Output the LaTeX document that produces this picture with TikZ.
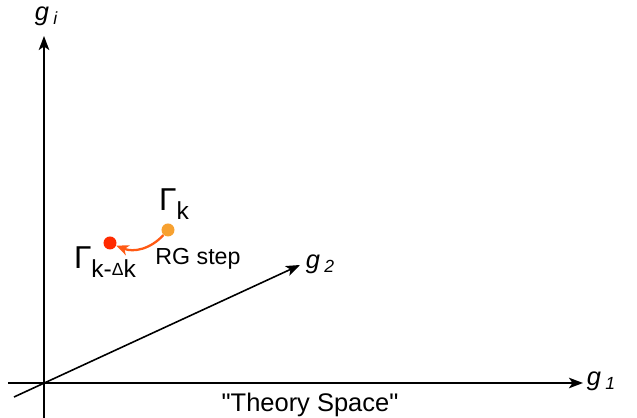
\documentclass[tikz,border=0pt]{standalone}
\usepackage{fontspec}
\setmainfont{Liberation Sans}
\usetikzlibrary{arrows.meta}
\definecolor{stepfrom}{HTML}{F7A130}
\definecolor{stepto}{HTML}{FF2A00}
\definecolor{steparrow}{HTML}{FF5A14}
\tikzset{
  every picture/.style={line join=round, >=Stealth},
  axis/.style={line width=0.9pt, -{Stealth[length=8pt,width=6pt,inset=2pt]}},
  coupling/.style={font=\fontsize{14.5}{17}\selectfont\itshape},
  dot/.style={circle, inner sep=0pt, minimum size=7.4pt},
  lbl/.style={font=\fontsize{14.5}{17}\selectfont},
}

\begin{document}
\begin{tikzpicture}[x=0.02cm,y=-0.02cm]
\useasboundingbox (0,0) rectangle (637,418);
% axes
\coordinate (o) at (44,383);
\coordinate (xs) at (8,383);
\coordinate (xe) at (583,383);
\coordinate (ys) at (44,418);
\coordinate (ye) at (44,36);
\coordinate (ds) at (14,397);
\coordinate (de) at (300,265);
\draw[axis] (xs) -- (xe);
\draw[axis] (ys) -- (ye);
\draw[axis] (ds) -- (de);
\node[coupling] (g1) at (601,381) {g\,\raisebox{-0.35ex}{\fontsize{10}{12}\selectfont 1}};
\node[coupling] (gi) at (46,16) {g\,\raisebox{-0.35ex}{\fontsize{10}{12}\selectfont i}};
\node[coupling] (g2) at (320,264) {g\,\raisebox{-0.35ex}{\fontsize{10}{12}\selectfont 2}};
\node[lbl] (ts) at (310,405) {\textquotedbl Theory Space\textquotedbl};
% RG step
\node[dot, fill=stepfrom] (gk) at (168,230) {};
\node[dot, fill=stepto] (gkd) at (110,243) {};
\draw[steparrow, line width=1.3pt, -{Stealth[length=7pt,width=6pt,inset=2pt]}] (gk) to[bend left=35] (gkd);
\node[lbl, font=\fontsize{18}{20}\selectfont] (lk) at (174,204) {Γ\raisebox{-0.5ex}{\fontsize{14}{16}\selectfont k}};
\node[lbl, font=\fontsize{18}{20}\selectfont] (lkd) at (105,262) {Γ\raisebox{-0.5ex}{\fontsize{14}{16}\selectfont k-\raisebox{0.1ex}{\fontsize{10}{12}\selectfont Δ}k}};
\node[lbl, font=\fontsize{13.2}{16}\selectfont] (rg) at (198,259) {RG step};
\end{tikzpicture}
\end{document}
